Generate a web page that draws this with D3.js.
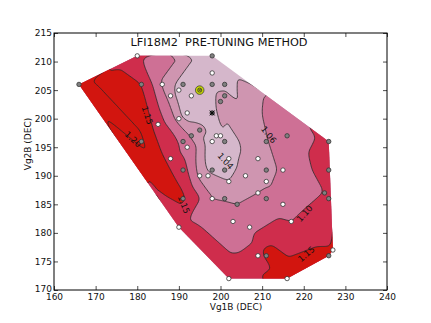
<!DOCTYPE html>
<html>
<head>
<meta charset="utf-8">
<script src="https://cdn.jsdelivr.net/npm/d3@7"></script>
<style>
body { margin: 0; background: #fff; }
text { font-family: "DejaVu Sans", sans-serif; fill: #111; }
</style>
</head>
<body>
<svg id="canvas"></svg>
<script>
const width = 431, height = 323;

/* measured points: Vg1B, Vg2B, value, marker kind */
const vg1b = [180,198,166,181,186,191,190,198,198,201,195,193,188,201,200,192,198,190,185,195,
              193,199,200,216,181,191,198,201,211,226,192,188,202,209,191,198,201,211,215,226,
              195,197,206,202,211,209,225,198,201,211,226,191,204,215,203,217,190,207,209,211,
              226,227,202,216];
const vg2b = [211,211,206,206,206,206,205,208,206,206,205,204,204,204,203,201,201,200,199,198,
              197,197,197,197,196,196,196,196,196,196,195,193,193,193,191,191,191,191,191,191,
              190,190,190,189,189,187,187,186,186,186,186,186,185,185,182,182,181,181,176,176,
              176,177,172,172];
const ratio = [1.11,1.02,1.22,1.15,1.055,1.03,1.035,1.02,1.02,1.03,1.02,1.025,1.045,1.05,1.07,1.03,1.015,1.045,1.125,1.05,
               1.055,1.03,1.03,1.08,1.21,1.09,1.025,1.03,1.058,1.11,1.08,1.125,1.035,1.05,1.12,1.035,1.035,1.05,1.065,1.12,
               1.05,1.045,1.045,1.04,1.055,1.06,1.10,1.06,1.058,1.07,1.125,1.16,1.06,1.075,1.075,1.10,1.115,1.08,1.12,1.17,
               1.17,1.155,1.12,1.18];
const kind = ["w","g","g","g","w","g","w","w","g","g","y","w","w","g","g","w","x","w","w","g",
              "g","w","w","g","g","g","w","g","g","g","w","w","w","w","g","g","g","g","w","g",
              "w","w","w","w","w","w","g","w","g","g","g","g","g","w","w","w","w","w","w","g",
              "g","w","w","w"];

const fillLevels = [1.04, 1.06, 1.10, 1.15];
const fillColors = ["#d5b7cb", "#cf95b0", "#ce7095", "#cf2d4c", "#d2150f"];
const lineLevels = [1.04, 1.06, 1.10, 1.15, 1.20];

const xTicks = [160,170,180,190,200,210,220,230,240];
const yTicks = [170,175,180,185,190,195,200,205,210,215];

const labelText = ["1.15","1.20","1.04","1.06","1.10","1.15","1.15"];
const labelX = [182.4,179.0,201.2,211.6,220.2,191.2,220.6];
const labelY = [200.6,196.4,192.6,197.2,183.4,185.0,176.3];
const labelRot = [72,42,48,52,-48,68,-40];

const xScale = d3.scaleLinear().domain([160,240]).range([54,387]);
const yScale = d3.scaleLinear().domain([170,215]).range([290,33]);

const svg = d3.select("#canvas")
    .attr("width", width)
    .attr("height", height);

/* Triangulate and grid the values */
const pts = vg1b.map((x, i) => [x, vg2b[i]]);
const delaunay = d3.Delaunay.from(pts);
const tri = delaunay.triangles;

function interp(x, y) {
    for (let t = 0; t < tri.length; t += 3) {
        const a = pts[tri[t]], b = pts[tri[t+1]], c = pts[tri[t+2]];
        const det = (b[1]-c[1])*(a[0]-c[0]) + (c[0]-b[0])*(a[1]-c[1]);
        const l1 = ((b[1]-c[1])*(x-c[0]) + (c[0]-b[0])*(y-c[1])) / det;
        const l2 = ((c[1]-a[1])*(x-c[0]) + (a[0]-c[0])*(y-c[1])) / det;
        const l3 = 1 - l1 - l2;
        if (l1 >= -1e-9 && l2 >= -1e-9 && l3 >= -1e-9) {
            return l1*ratio[tri[t]] + l2*ratio[tri[t+1]] + l3*ratio[tri[t+2]];
        }
    }
    return ratio[delaunay.find(x, y)];
}

const step = 0.25, gx0 = 162, gy0 = 168;
const nx = Math.round((232-gx0)/step) + 1, ny = Math.round((214-gy0)/step) + 1;
let grid = new Float64Array(nx*ny);
for (let j = 0; j < ny; j++) {
    for (let i = 0; i < nx; i++) {
        grid[j*nx+i] = interp(gx0 + i*step, gy0 + j*step);
    }
}

/* light box blur to soften the triangle edges */
function blur(src, r) {
    const tmp = new Float64Array(src.length), out = new Float64Array(src.length);
    for (let j = 0; j < ny; j++) for (let i = 0; i < nx; i++) {
        let s = 0, n = 0;
        for (let k = -r; k <= r; k++) { const ii = i+k; if (ii >= 0 && ii < nx) { s += src[j*nx+ii]; n++; } }
        tmp[j*nx+i] = s/n;
    }
    for (let j = 0; j < ny; j++) for (let i = 0; i < nx; i++) {
        let s = 0, n = 0;
        for (let k = -r; k <= r; k++) { const jj = j+k; if (jj >= 0 && jj < ny) { s += tmp[jj*nx+i]; n++; } }
        out[j*nx+i] = s/n;
    }
    return out;
}
grid = blur(blur(grid, 2), 2);

const gridPath = d3.geoPath(d3.geoTransform({
    point: function(x, y) {
        this.stream.point(xScale(gx0 + (x-0.5)*step), yScale(gy0 + (y-0.5)*step));
    }
}));
const contours = d3.contours().size([nx, ny]);

/* clip to the convex hull of the points */
const hull = delaunay.hullPolygon();
svg.append("clipPath").attr("id", "hull")
    .append("path")
    .attr("d", "M" + hull.map(p => xScale(p[0]) + "," + yScale(p[1])).join("L") + "Z");

const plot = svg.append("g").attr("clip-path", "url(#hull)");

plot.append("rect")
    .attr("x", 54).attr("y", 33).attr("width", 333).attr("height", 257)
    .attr("fill", fillColors[0]);

plot.append("g")
    .selectAll("path")
    .data(fillLevels)
    .enter()
    .append("path")
    .attr("d", d => gridPath(contours.contour(grid, d)))
    .attr("fill", (d, i) => fillColors[i+1]);

plot.append("g")
    .selectAll("path")
    .data(lineLevels)
    .enter()
    .append("path")
    .attr("d", d => gridPath(contours.contour(grid, d)))
    .attr("fill", "none")
    .attr("stroke", "#2a2a2a")
    .attr("stroke-width", 0.8);

/* contour labels */
svg.append("g")
    .selectAll("text")
    .data(labelText)
    .enter()
    .append("text")
    .attr("transform", (d, i) => `translate(${xScale(labelX[i])},${yScale(labelY[i])}) rotate(${labelRot[i]})`)
    .attr("text-anchor", "middle")
    .attr("dy", "0.35em")
    .attr("font-size", 8.5)
    .text(d => d);

/* sample points */
const idx = d3.range(vg1b.length);
svg.append("g")
    .selectAll("circle")
    .data(idx.filter(i => kind[i] === "w" || kind[i] === "g"))
    .enter()
    .append("circle")
    .attr("cx", i => xScale(vg1b[i]))
    .attr("cy", i => yScale(vg2b[i]))
    .attr("r", 2.2)
    .attr("fill", i => kind[i] === "w" ? "#ffffff" : "#808080")
    .attr("stroke", "#333")
    .attr("stroke-width", 0.8);

const yi = idx.find(i => kind[i] === "y");
const yg = svg.append("g").attr("transform", `translate(${xScale(vg1b[yi])},${yScale(vg2b[yi])})`);
yg.append("circle").attr("r", 4.3).attr("fill", "#c6d400").attr("stroke", "#444").attr("stroke-width", 0.8);
yg.append("circle").attr("r", 2).attr("fill", "#c6d400").attr("stroke", "#333").attr("stroke-width", 0.8);
yg.append("path").attr("d", "M-1.2,-1.2L1.2,1.2M-1.2,1.2L1.2,-1.2").attr("stroke", "#333").attr("stroke-width", 0.7);

const xi = idx.find(i => kind[i] === "x");
const xg = svg.append("g").attr("transform", `translate(${xScale(vg1b[xi])},${yScale(vg2b[xi])})`);
xg.append("circle").attr("r", 2.2).attr("fill", "#555").attr("stroke", "#222").attr("stroke-width", 0.8);
xg.append("path").attr("d", "M-2.4,-2.4L2.4,2.4M-2.4,2.4L2.4,-2.4").attr("stroke", "#000").attr("stroke-width", 1);

/* axes with inward ticks */
const axB = svg.append("g").attr("transform", "translate(0,290)")
    .call(d3.axisBottom(xScale).tickValues(xTicks).tickSize(-4).tickSizeOuter(0).tickPadding(3.5));
const axT = svg.append("g").attr("transform", "translate(0,33)")
    .call(d3.axisTop(xScale).tickValues(xTicks).tickSize(-4).tickSizeOuter(0).tickFormat(""));
const axL = svg.append("g").attr("transform", "translate(54,0)")
    .call(d3.axisLeft(yScale).tickValues(yTicks).tickSize(-4).tickSizeOuter(0).tickPadding(2));
const axR = svg.append("g").attr("transform", "translate(387,0)")
    .call(d3.axisRight(yScale).tickValues(yTicks).tickSize(-4).tickSizeOuter(0).tickFormat(""));
[axB, axT, axL, axR].forEach(a => {
    a.select(".domain").remove();
    a.selectAll("line").attr("stroke", "#000").attr("stroke-width", 0.7);
    a.selectAll("text").attr("font-size", 9).attr("font-family", "DejaVu Sans").attr("fill", "#111");
});
// corner labels sit close together, as in the original
axL.selectAll(".tick text").filter(d => d === 170).attr("y", -1.5);

svg.append("rect")
    .attr("x", 54).attr("y", 33).attr("width", 333).attr("height", 257)
    .attr("fill", "none").attr("stroke", "#000").attr("stroke-width", 1);

svg.append("text")
    .attr("x", 219).attr("y", 45.5)
    .attr("text-anchor", "middle")
    .attr("font-size", 11.3)
    .style("white-space", "pre")
    .text("LFI18M2  PRE-TUNING METHOD");

svg.append("text")
    .attr("x", 236).attr("y", 310)
    .attr("text-anchor", "middle")
    .attr("font-size", 9)
    .text("Vg1B (DEC)");

svg.append("text")
    .attr("transform", "translate(31,144) rotate(-90)")
    .attr("text-anchor", "middle")
    .attr("font-size", 9)
    .text("Vg2B (DEC)");
</script>
</body>
</html>
